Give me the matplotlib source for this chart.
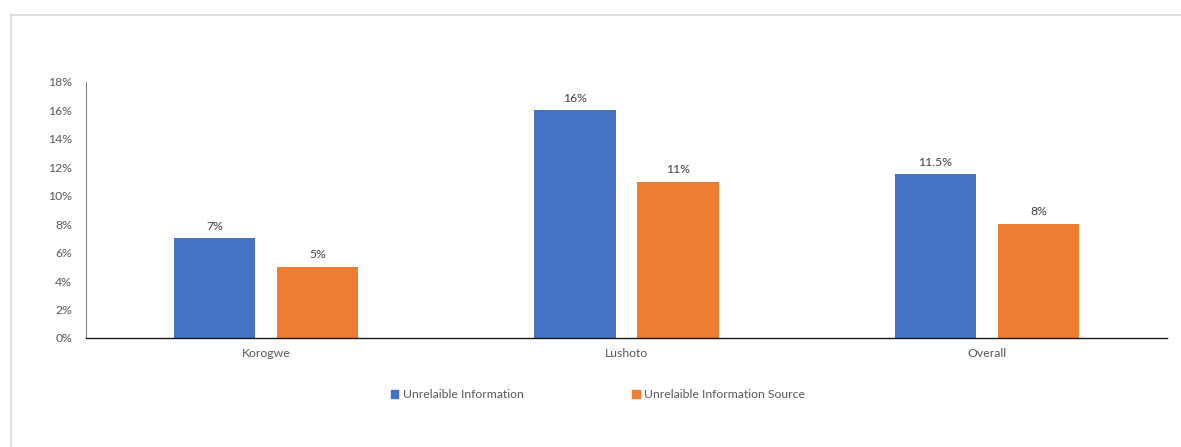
import matplotlib
matplotlib.use("Agg")
import matplotlib.pyplot as plt
from matplotlib.lines import Line2D
from matplotlib.patches import Patch
import numpy as np

categories = ["Korogwe", "Lushoto", "Overall"]
series_names = ["Unrelaible Information", "Unrelaible Information Source"]
unreliable_info = [7, 16, 11.5]
unreliable_source = [5, 11, 8]
label_info = ["7%", "16%", "11.5%"]
label_source = ["5%", "11%", "8%"]
yticks = [0, 2, 4, 6, 8, 10, 12, 14, 16, 18]
colors = ["#4472C4", "#ED7D31"]

plt.rcParams['font.family'] = ['Lato', 'DejaVu Sans']
FS = 8.8
W, H = 1181, 447
fig = plt.figure(figsize=(W / 100, H / 100), dpi=100)

# outer frame lines (chart area border, partly cropped)
fig.add_artist(Line2D([11 / W, 1.0], [1 - 15 / H, 1 - 15 / H], color="#D9D9D9", lw=1.2, transform=fig.transFigure))
fig.add_artist(Line2D([11 / W, 11 / W], [0, 1 - 15 / H], color="#D9D9D9", lw=1.2, transform=fig.transFigure))

ax = fig.add_axes([86 / W, 1 - 338 / H, (1167 - 86) / W, (338 - 82) / H])
x = np.arange(len(categories))
bw = 0.225
off = 0.143
b1 = ax.bar(x - off, unreliable_info, bw, color=colors[0], label=series_names[0])
b2 = ax.bar(x + off, unreliable_source, bw, color=colors[1], label=series_names[1])

for rect, lab in zip(b1, label_info):
    ax.annotate(lab, (rect.get_x() + rect.get_width() / 2, rect.get_height()), xytext=(0, 5),
                textcoords="offset points", ha="center", va="bottom", fontsize=FS, color="#404040")
for rect, lab in zip(b2, label_source):
    ax.annotate(lab, (rect.get_x() + rect.get_width() / 2, rect.get_height()), xytext=(0, 5),
                textcoords="offset points", ha="center", va="bottom", fontsize=FS, color="#404040")

ax.set_xlim(-0.5, len(categories) - 0.5)
ax.set_ylim(0, 18)
ax.set_yticks(yticks)
ax.set_yticklabels([f"{v}%" for v in yticks])
ax.set_xticks(x)
ax.set_xticklabels(categories)
ax.tick_params(axis="both", length=0, labelsize=FS, labelcolor="#595959")
ax.tick_params(axis="y", pad=10)
ax.tick_params(axis="x", pad=7)
for s in ["top", "right"]:
    ax.spines[s].set_visible(False)
ax.spines["left"].set_color("#808080")
ax.spines["left"].set_linewidth(0.8)
ax.spines["bottom"].set_color("#1a1a1a")
ax.spines["bottom"].set_linewidth(1.0)

handles = [Patch(color=colors[0]), Patch(color=colors[1])]
fig.legend(handles, series_names, loc="center", bbox_to_anchor=(598 / W, 1 - 395 / H), ncol=2,
           frameon=False, fontsize=FS, labelcolor="#595959", handlelength=0.65, handleheight=0.65,
           handletextpad=0.35, columnspacing=8.9)

fig.savefig("out.png", dpi=100)
